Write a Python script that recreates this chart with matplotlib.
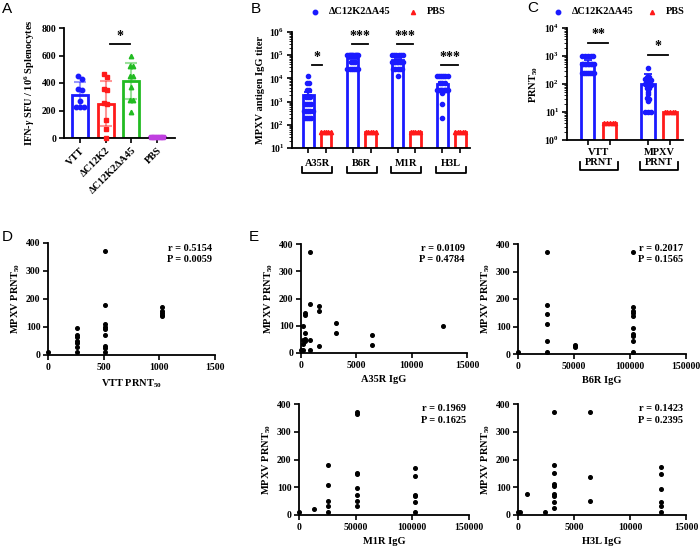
import numpy as np
import matplotlib
matplotlib.use("Agg")
import matplotlib.pyplot as plt
from matplotlib.lines import Line2D

# ---------------- data ----------------
# A: IFN-gamma ELISpot
groups_a = ["VTT", "ΔC12K2", "ΔC12K2ΔA45", "PBS"]
means_a = [315, 250, 415, 5]
sd_a = [90, 165, 132, 0]
vtt_spots = [448, 429, 356, 351, 267, 225, 225, 225]
c12_spots = [463, 441, 356, 347, 255, 247, 128, 65, 0]
a45_spots = [599, 524, 524, 453, 453, 371, 279, 279, 189]
pbs_spots = [8, 8, 6, 6, 5, 5, 4, 4]

# B: antigen specific IgG
antigens = ["A35R", "B6R", "M1R", "H3L"]
igg_mean = [2000, 75000, 60000, 6000]
igg_err = [700, 9000, 9000, 1000]
pbs_igg = [50, 50, 50, 50]
sig_b = ["*", "***", "***", "***"]
sig_b_y = [37000, 290000, 290000, 37000]
n_pbs = 5

# C: PRNT50
prnt_top = ["VTT", "MPXV"]
prnt_mean = [560, 100]
prnt_err = [180, 120]
pbs_prnt = [4, 10]
sig_c = ["**", "*"]
sig_c_y = [2900, 1100]

# D: VTT vs MPXV PRNT50 (paired per mouse)
vtt_prnt = [0, 256, 256, 256, 256, 256, 256, 256,
            512, 512, 512, 512, 512, 512, 512, 512, 512,
            1024, 1024, 1024, 1024, 1024]
mpxv_prnt = [10, 98, 71, 64, 51, 44, 30, 10,
             371, 180, 111, 100, 93, 73, 31, 24, 10,
             171, 156, 150, 144, 138]

# E: IgG titers vs MPXV PRNT50
a35r_igg = [800, 800, 1600, 1600, 400, 400, 200, 3200, 3200, 400, 400,
            800, 200, 200, 0, 800, 1600, 6400, 6400, 12800, 200, 400]
a35r_prnt = [370, 181, 173, 154, 148, 140, 98, 110, 72, 73, 51,
             48, 48, 33, 12, 12, 24, 67, 31, 99, 10, 45]
b6r_igg = [25600, 102400, 25600, 25600, 25600, 25600, 25600, 0, 51200, 51200,
           51200, 102400, 102400, 102400, 102400, 102400, 102400, 102400,
           102400, 102400]
b6r_prnt = [371, 372, 180, 147, 108, 49, 8, 8, 33, 28,
            24, 172, 157, 148, 139, 96, 72, 66, 48, 8]
m1r_igg = [0, 12800, 25600, 25600, 25600, 25600, 25600, 51200, 51200, 51200,
           51200, 51200, 51200, 51200, 51200, 102400, 102400, 102400, 102400,
           102400, 102400]
m1r_prnt = [10, 23, 179, 109, 50, 31, 10, 371, 365, 152,
            148, 98, 73, 50, 31, 171, 139, 72, 67, 46, 10]
h3l_igg = [0, 200, 800, 2400, 3200, 3200, 3200, 3200, 3200, 3200, 3200,
           3200, 3200, 6400, 6400, 6400, 12800, 12800, 12800, 12800, 12800, 12800]
h3l_prnt = [10, 10, 74, 10, 371, 179, 152, 112, 104, 74, 68,
            48, 24, 370, 138, 49, 172, 146, 95, 47, 33, 10]
corr_r = ["0.5154", "0.0109", "0.2017", "0.1969", "0.1423"]
corr_p = ["0.0059", "0.4784", "0.1565", "0.1625", "0.2395"]

# ---------------- style ----------------
plt.rcParams["font.family"] = ["Liberation Serif", "DejaVu Serif"]
plt.rcParams["font.weight"] = "bold"
plt.rcParams["axes.labelweight"] = "bold"
plt.rcParams["mathtext.fontset"] = "custom"
plt.rcParams["mathtext.rm"] = "Liberation Serif:bold"
plt.rcParams["mathtext.it"] = "Liberation Serif:italic:bold"
plt.rcParams["mathtext.bf"] = "Liberation Serif:bold"

BLUE = "#1a1aff"
RED = "#ff1a1a"
GREEN = "#22bb22"
MAG = "#c040e0"

W, H = 700, 547
fig = plt.figure(figsize=(7, 5.47), dpi=100)


def add_ax(l, t, r, b):
    return fig.add_axes([l / W, 1 - b / H, (r - l) / W, (b - t) / H])


def style(ax):
    for s in ("top", "right"):
        ax.spines[s].set_visible(False)
    for s in ("left", "bottom"):
        ax.spines[s].set_linewidth(1.3)
    ax.tick_params(direction="out", length=3.5, width=1.2, labelsize=7, pad=2)
    ax.minorticks_off()


def spread(vals, center, step, maxw, tol, log=False):
    # simple deterministic swarm: spread near-equal values sideways
    v = np.asarray(vals, float)
    v = np.log10(v) if log else v
    order = np.argsort(-v)
    xs = np.full(len(v), float(center))
    groups = []
    for i in order:
        if groups and abs(v[i] - v[groups[-1][0]]) <= tol:
            groups[-1].append(i)
        else:
            groups.append([i])
    for g in groups:
        n = len(g)
        if n > 1:
            w = min(maxw, step * (n - 1))
            xs[g] = center + np.linspace(-w / 2, w / 2, n)
    return xs


def panel_letter(x, y, s):
    fig.text(x / W, 1 - y / H, s, fontsize=11, family="Liberation Sans",
             weight="normal", va="top", ha="left")


# ---------------- A ----------------
axA = add_ax(64, 28, 175, 138)
style(axA)
xa = np.arange(4)
col_a = [BLUE, RED, GREEN, MAG]
mk_a = ["o", "s", "^", "s"]
spots_a = [vtt_spots, c12_spots, a45_spots, pbs_spots]
axA.bar(xa, means_a, width=0.62, color="white", edgecolor=col_a, linewidth=2, zorder=1)
for i in range(4):
    if sd_a[i] > 0:
        axA.errorbar(xa[i], means_a[i], yerr=sd_a[i], fmt="none", ecolor=col_a[i],
                     alpha=0.45, capsize=4, elinewidth=1.5, capthick=1.5, zorder=2)
    xs = spread(spots_a[i], xa[i], 0.14, 0.5, 25)
    axA.plot(xs, spots_a[i], ls="none", marker=mk_a[i], ms=3.2, color=col_a[i],
             zorder=3, clip_on=False)
axA.set_xlim(-0.62, 3.7)
axA.set_ylim(0, 800)
axA.set_yticks([0, 200, 400, 600, 800])
axA.set_xticks(xa)
axA.set_xticklabels(groups_a, rotation=45, ha="right", rotation_mode="anchor", fontsize=7.5)
axA.set_ylabel(r"IFN-$\it{\gamma}$ SFU / 10$^6$ Splenocytes", fontsize=7.5, labelpad=3)
axA.plot([1.17, 1.95], [683, 683], color="k", lw=1.3)
axA.text(1.56, 688, "*", ha="center", va="bottom", fontsize=10)
panel_letter(2, 2, "A")

# ---------------- B ----------------
axB = add_ax(292, 32, 470, 148)
style(axB)
axB.set_yscale("log")
xb = np.arange(4)
off, bw = 0.2, 0.245
floor_b = 10
axB.bar(xb - off, np.array(igg_mean) - floor_b, bw, bottom=floor_b, color="white",
        edgecolor=BLUE, lw=2, zorder=1)
axB.errorbar(xb - off, igg_mean, yerr=[np.zeros(4), igg_err], fmt="none", ecolor=BLUE,
             capsize=3, elinewidth=1.3, capthick=1.3, zorder=2)
axB.bar(xb + off, np.array(pbs_igg) - floor_b, bw, bottom=floor_b, color="white",
        edgecolor=RED, lw=2, zorder=1)
for i, vals in enumerate([a35r_igg, b6r_igg, m1r_igg, h3l_igg]):
    v = [x for x in vals if x > 0]
    xs = spread(v, xb[i] - off, 0.05, 0.24, 0.05, log=True)
    axB.plot(xs, v, ls="none", marker="o", ms=3.0, color=BLUE, zorder=3)
    xr = xb[i] + off + np.linspace(-0.11, 0.11, n_pbs)
    axB.plot(xr, [pbs_igg[i]] * n_pbs, ls="none", marker="^", ms=3, color=RED, zorder=3)
    if i == 0:
        xl = [xb[i] - 0.12, xb[i] + 0.11]
    else:
        xl = [xb[i] - 0.22, xb[i] + 0.15]
    axB.plot(xl, [sig_b_y[i]] * 2, color="k", lw=1.3)
    axB.text(np.mean(xl), sig_b_y[i] * 1.12, sig_b[i], ha="center", va="bottom", fontsize=10)
axB.set_ylim(10, 1e6)
axB.set_xlim(-0.56, 3.42)
axB.set_xticks(np.sort(np.concatenate([xb - off, xb + off])))
axB.set_xticklabels([])
axB.set_ylabel("MPXV antigen IgG titer", fontsize=7.5, labelpad=3)
trB = axB.get_xaxis_transform()
for i, name in enumerate(antigens):
    axB.text(xb[i], -0.13, name, transform=trB, ha="center", va="center", fontsize=7.5)
    axB.plot([xb[i] - 0.34, xb[i] - 0.34, xb[i] + 0.33, xb[i] + 0.33],
             [-0.165, -0.215, -0.215, -0.165], transform=trB, clip_on=False,
             color="k", lw=1.3)
panel_letter(251, 2, "B")

# legend for B and C
for mx, tx, my in [(315, 329, 12), (558, 572, 12)]:
    fig.add_artist(Line2D([mx / W], [1 - my / H], marker="o", ms=3.2, color=BLUE, ls="none"))
    fig.text(tx / W, 1 - my / H, "ΔC12K2ΔA45", fontsize=7.5, va="center", ha="left")
for mx, tx, my in [(413, 427, 12), (652, 666, 12)]:
    fig.add_artist(Line2D([mx / W], [1 - my / H], marker="^", ms=3, color=RED, ls="none"))
    fig.text(tx / W, 1 - my / H, "PBS", fontsize=7.5, va="center", ha="left")

# ---------------- C ----------------
axC = add_ax(567, 28, 683, 140)
style(axC)
axC.set_yscale("log")
xc = np.arange(2)
offc, bwc = 0.183, 0.22
floor_c = 1
axC.bar(xc - offc, np.array(prnt_mean) - floor_c, bwc, bottom=floor_c, color="white",
        edgecolor=BLUE, lw=2, zorder=1)
axC.errorbar(xc - offc, prnt_mean, yerr=[np.zeros(2), prnt_err], fmt="none", ecolor=BLUE,
             capsize=3, elinewidth=1.3, capthick=1.3, zorder=2)
axC.bar(xc + offc, np.array(pbs_prnt) - floor_c, bwc, bottom=floor_c, color="white",
        edgecolor=RED, lw=2, zorder=1)
for i, vals in enumerate([vtt_prnt, mpxv_prnt]):
    v = [x for x in vals if x > 0]
    xs = spread(v, xc[i] - offc, 0.045, 0.2, 0.04, log=True)
    axC.plot(xs, v, ls="none", marker="o", ms=3.0, color=BLUE, zorder=3)
    xr = xc[i] + offc + np.linspace(-0.09, 0.09, n_pbs)
    axC.plot(xr, [pbs_prnt[i]] * n_pbs, ls="none", marker="^", ms=3, color=RED, zorder=3)
    xl = [xc[i] - 0.18, xc[i] + 0.15]
    axC.plot(xl, [sig_c_y[i]] * 2, color="k", lw=1.3)
    axC.text(np.mean(xl), sig_c_y[i] * 1.15, sig_c[i], ha="center", va="bottom", fontsize=10)
axC.set_ylim(1, 1e4)
axC.set_xlim(-0.53, 1.4)
axC.set_xticks(np.sort(np.concatenate([xc - offc, xc + offc])))
axC.set_xticklabels([])
axC.set_ylabel(r"PRNT$_{50}$", fontsize=7.5, labelpad=3)
trC = axC.get_xaxis_transform()
for i, name in enumerate(prnt_top):
    axC.text(xc[i], -0.115, name, transform=trC, ha="center", va="center", fontsize=7.5)
    axC.text(xc[i], -0.205, "PRNT", transform=trC, ha="center", va="center", fontsize=7.5)
    axC.plot([xc[i] - 0.31, xc[i] - 0.31, xc[i] + 0.32, xc[i] + 0.32],
             [-0.2, -0.27, -0.27, -0.2], transform=trC, clip_on=False,
             color="k", lw=1.3)
panel_letter(527, 1, "C")

# ---------------- D & E ----------------
def scatter_panel(box, x, y, xmax, xticks, xlabel, r, p):
    ax = add_ax(*box)
    style(ax)
    ax.plot(x, y, ls="none", marker="o", ms=2.6, color="k", clip_on=False, zorder=3)
    ax.set_xlim(0, xmax)
    ax.set_ylim(0, 400)
    ax.set_xticks(xticks)
    ax.set_yticks([0, 100, 200, 300, 400])
    ax.set_xlabel(xlabel, fontsize=7.5, labelpad=4)
    ax.set_ylabel(r"MPXV PRNT$_{50}$", fontsize=7.5, labelpad=3)
    ax.text(0.985, 0.955, "r = " + r, transform=ax.transAxes, ha="right", va="center", fontsize=7.5)
    ax.text(0.985, 0.855, "P = " + p, transform=ax.transAxes, ha="right", va="center", fontsize=7.5)
    return ax


small_ticks = [0, 5000, 10000, 15000]
big_ticks = [0, 50000, 100000, 150000]
scatter_panel((48, 243, 215, 355), vtt_prnt, mpxv_prnt, 1500, [0, 500, 1000, 1500],
              r"VTT PRNT$_{50}$", corr_r[0], corr_p[0])
scatter_panel((301, 244, 467, 353), a35r_igg, a35r_prnt, 15000, small_ticks,
              "A35R IgG", corr_r[1], corr_p[1])
scatter_panel((518, 244, 686, 354), b6r_igg, b6r_prnt, 150000, big_ticks,
              "B6R IgG", corr_r[2], corr_p[2])
scatter_panel((299, 404, 469, 515), m1r_igg, m1r_prnt, 150000, big_ticks,
              "M1R IgG", corr_r[3], corr_p[3])
scatter_panel((518, 404, 686, 515), h3l_igg, h3l_prnt, 15000, small_ticks,
              "H3L IgG", corr_r[4], corr_p[4])
panel_letter(2, 230, "D")
panel_letter(249, 230, "E")

fig.savefig("out.png", dpi=100)
